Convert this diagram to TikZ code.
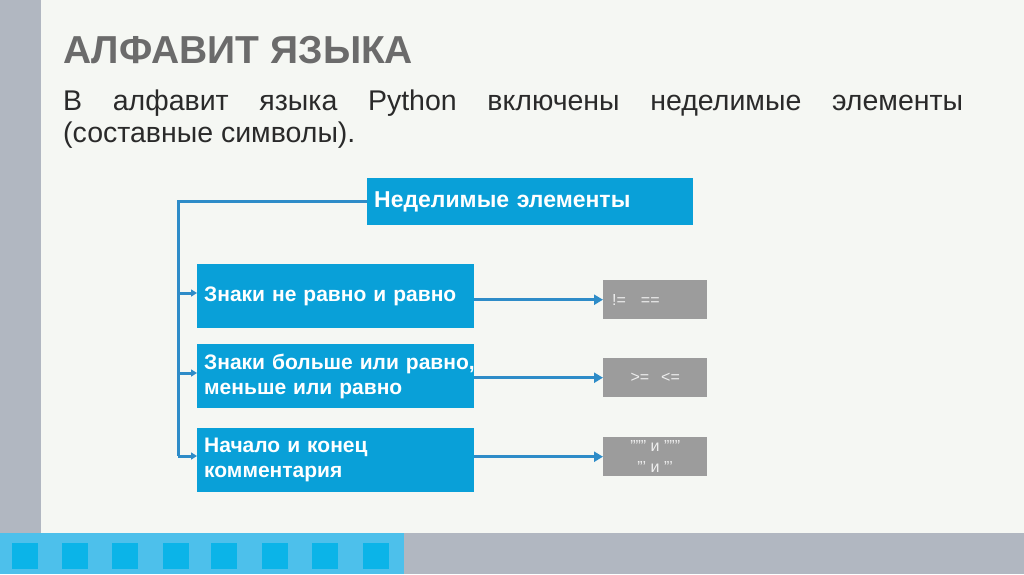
\documentclass[tikz,border=0pt]{standalone}
\usepackage{fontspec}
\setmainfont{Liberation Sans}
\usetikzlibrary{arrows.meta}
\definecolor{bg}{HTML}{F5F7F3}
\definecolor{side}{HTML}{B1B7C1}
\definecolor{barblue}{HTML}{4DC0EB}
\definecolor{sqblue}{HTML}{0BB4E8}
\definecolor{boxblue}{HTML}{09A0D8}
\definecolor{linkblue}{HTML}{2E8CC8}
\definecolor{greybox}{HTML}{9C9C9C}
\definecolor{titlegrey}{HTML}{6B6B6B}
\definecolor{bodytext}{HTML}{2A2A2A}
\definecolor{greytext}{HTML}{EEEEEE}
\begin{document}
\begin{tikzpicture}[x=1pt,y=-1pt,
  bluebox/.style={fill=boxblue, text=white, anchor=north west, minimum width=277pt,
    text width=263pt, inner xsep=7pt, inner ysep=0pt, align=left,
    font=\fontsize{21}{25}\selectfont\bfseries},
  greyboxst/.style={fill=greybox, text=greytext, anchor=north west, minimum width=104pt,
    minimum height=39pt, inner sep=0pt, align=center, font=\fontsize{16}{21}\selectfont},
  link/.style={draw=linkblue, line width=3pt},
  bigarrow/.style={draw=linkblue, line width=3.5pt, -{Triangle[length=9pt,width=10pt]}},
  smallarrow/.style={draw=linkblue, line width=3pt, -{Triangle[length=6pt,width=7pt]}}
]
\useasboundingbox (0,0) rectangle (1024,574);
\fill[bg] (0,0) rectangle (1024,574);
\fill[side] (0,0) rectangle (41,533);
\fill[side] (404,533) rectangle (1024,574);
\fill[barblue] (0,533) rectangle (404,574);
\foreach \x in {12,62,112,163,211,262,312,363}
  \fill[sqblue] (\x,543) rectangle ++(26,26);

\node[anchor=base west, inner sep=0pt, text=titlegrey, font=\fontsize{39}{44}\selectfont\bfseries]
  (title) at (63,63) {АЛФАВИТ ЯЗЫКА};
\node[anchor=base west, inner sep=0pt, text=bodytext, font=\fontsize{28.5}{32}\selectfont, align=left]
  (body) at (63,142) {\makebox[900pt][s]{В алфавит языка Python включены неделимые элементы}\\(составные символы).};

\node[fill=boxblue, text=white, anchor=north west, minimum width=326pt, minimum height=47pt,
  text width=312pt, inner xsep=7pt, inner ysep=0pt, align=left,
  font=\fontsize{23}{26}\selectfont\bfseries] (hdr) at (367,178) {Неделимые элементы};

\node[bluebox, minimum height=64pt] (b1) at (197,264) {Знаки не равно и равно};
\node[bluebox, minimum height=64pt] (b2) at (197,344) {\mbox{Знаки больше или равно,}\\меньше или равно};
\node[bluebox, minimum height=64pt] (b3) at (197,428) {Начало и конец\\комментария};

\node[greyboxst] (g1) at (603,280) {\makebox[86pt][l]{!=\hspace{15pt}==}};
\node[greyboxst] (g2) at (603,358) {>=\hspace{12pt}<=};
\node[greyboxst] (g3) at (603,437) {""" и """\\''' и '''};

\coordinate (j1) at (178,293);
\coordinate (j2) at (178,373);
\coordinate (j3) at (178,456);
\draw[link] (hdr.west) -| (j3);
\draw[smallarrow] (j1) -- (j1 -| b1.west);
\draw[smallarrow] (j2) -- (j2 -| b2.west);
\draw[smallarrow] (j3) -- (j3 -| b3.west);

\draw[bigarrow] (b1.east |- g1.west) -- (g1.west);
\draw[bigarrow] (b2.east |- g2.west) -- (g2.west);
\draw[bigarrow] (b3.east |- g3.west) -- (g3.west);
\end{tikzpicture}
\end{document}
